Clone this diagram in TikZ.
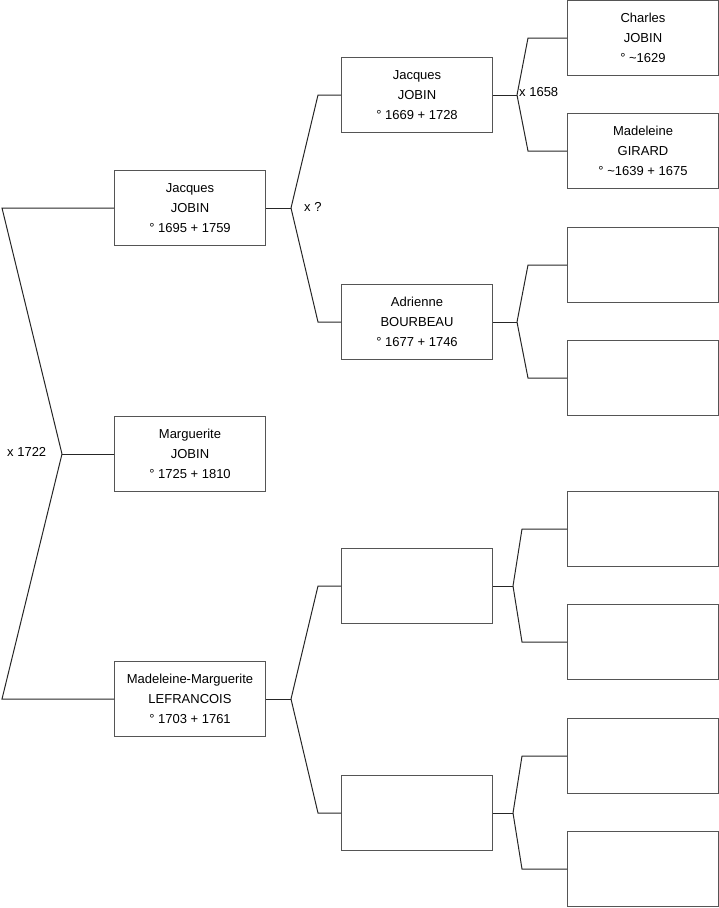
\documentclass[tikz,border=0pt]{standalone}
\usepackage{fontspec}
\setmainfont{Liberation Sans}
\begin{document}
\begin{tikzpicture}[x=1pt,y=-1pt,
  pbox/.style={draw=boxgray, line width=1pt, minimum width=151pt, minimum height=75pt,
    anchor=north west, inner sep=0pt, align=center, font=\fontsize{13}{20}\selectfont},
  conn/.style={draw=black!85, line width=1pt},
  lbl/.style={anchor=west, inner sep=0pt, font=\fontsize{13}{14}\selectfont}]
\definecolor{boxgray}{HTML}{555555}
\useasboundingbox (0,0) rectangle (719,908);
% generation 0
\node[pbox] (m) at (114,416) {Marguerite\\JOBIN\\° 1725 + 1810};
% generation 1
\node[pbox] (j1) at (114,170) {Jacques\\JOBIN\\° 1695 + 1759};
\node[pbox] (ml) at (114,661) {Madeleine-Marguerite\\LEFRANCOIS\\° 1703 + 1761};
% generation 2
\node[pbox] (j2) at (341,57) {Jacques\\JOBIN\\° 1669 + 1728};
\node[pbox] (ab) at (341,284) {Adrienne\\BOURBEAU\\° 1677 + 1746};
\node[pbox] (e1) at (341,548) {};
\node[pbox] (e2) at (341,775) {};
% generation 3
\node[pbox] (cj) at (567,0) {Charles\\JOBIN\\° \textasciitilde 1629};
\node[pbox] (mg) at (567,113) {Madeleine\\GIRARD\\° \textasciitilde 1639 + 1675};
\node[pbox] (g3) at (567,227) {};
\node[pbox] (g4) at (567,340) {};
\node[pbox] (g5) at (567,491) {};
\node[pbox] (g6) at (567,604) {};
\node[pbox] (g7) at (567,718) {};
\node[pbox] (g8) at (567,831) {};
% fork points
\coordinate (f0) at ([xshift=-52pt]m.west);
\coordinate (f1) at ([xshift=25pt]j1.east);
\coordinate (f2) at ([xshift=25pt]ml.east);
\coordinate (f3) at ([xshift=24pt]j2.east);
\coordinate (f4) at ([xshift=24pt]ab.east);
\coordinate (f5) at ([xshift=20pt]e1.east);
\coordinate (f6) at ([xshift=20pt]e2.east);
% root couple (fork to the left)
\draw[conn] (m.west) -- (f0);
\draw[conn] (f0) -- ([xshift=-112pt]j1.west) -- (j1.west);
\draw[conn] (f0) -- ([xshift=-112pt]ml.west) -- (ml.west);
\node[lbl] at (7,452) {x 1722};
% generation 1 couples
\draw[conn] (j1.east) -- (f1);
\draw[conn] (f1) -- ([xshift=-23pt]j2.west) -- (j2.west);
\draw[conn] (f1) -- ([xshift=-23pt]ab.west) -- (ab.west);
\node[lbl] at (304,207) {x ?};
\draw[conn] (ml.east) -- (f2);
\draw[conn] (f2) -- ([xshift=-23pt]e1.west) -- (e1.west);
\draw[conn] (f2) -- ([xshift=-23pt]e2.west) -- (e2.west);
% generation 2 couples
\draw[conn] (j2.east) -- (f3);
\draw[conn] (f3) -- ([xshift=-39pt]cj.west) -- (cj.west);
\draw[conn] (f3) -- ([xshift=-39pt]mg.west) -- (mg.west);
\node[lbl] at (519,92) {x 1658};
\draw[conn] (ab.east) -- (f4);
\draw[conn] (f4) -- ([xshift=-39pt]g3.west) -- (g3.west);
\draw[conn] (f4) -- ([xshift=-39pt]g4.west) -- (g4.west);
\draw[conn] (e1.east) -- (f5);
\draw[conn] (f5) -- ([xshift=-45pt]g5.west) -- (g5.west);
\draw[conn] (f5) -- ([xshift=-45pt]g6.west) -- (g6.west);
\draw[conn] (e2.east) -- (f6);
\draw[conn] (f6) -- ([xshift=-45pt]g7.west) -- (g7.west);
\draw[conn] (f6) -- ([xshift=-45pt]g8.west) -- (g8.west);
\end{tikzpicture}
\end{document}
